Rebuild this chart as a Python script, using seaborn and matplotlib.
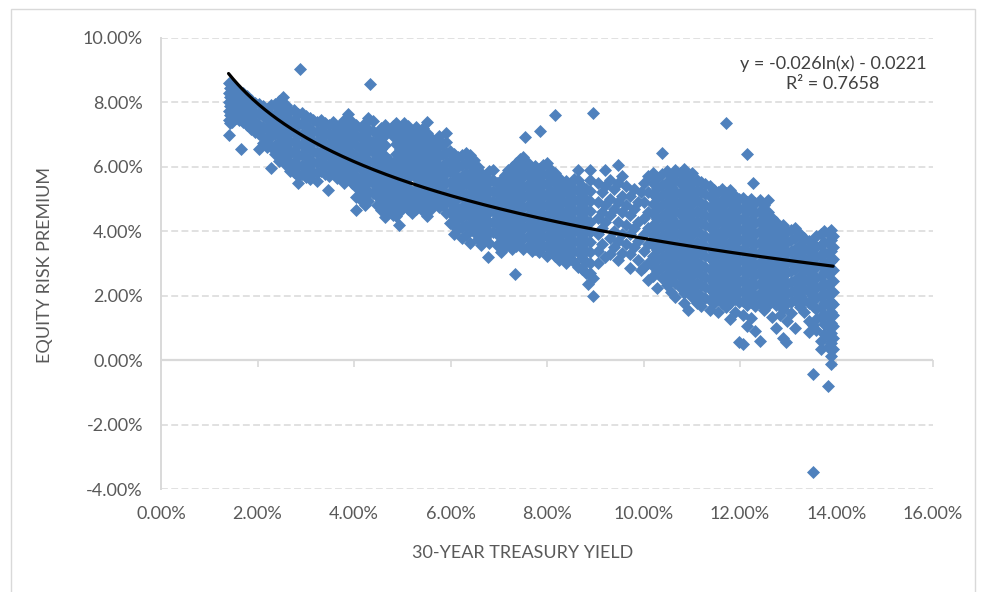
import numpy as np
import pandas as pd
import matplotlib
matplotlib.use("Agg")
import matplotlib.pyplot as plt
from matplotlib.ticker import PercentFormatter, MultipleLocator
from matplotlib.patches import Rectangle
import seaborn as sns

# Each entry: (30-year treasury yield %, [equity risk premium % observations])
yield_under_3 = [
    (1.40, [8.58, 8.30, 8.02, 7.74, 7.46, 6.98]),
    (1.43, [8.45, 8.15, 7.88, 7.60, 7.35]),
    (1.48, [8.50, 8.20, 7.92, 7.64, 7.40]),
    (1.55, [8.42, 8.10, 7.80, 7.52]),
    (1.62, [8.35, 8.05, 7.76, 7.46]),
    (1.66, [6.54]),
    (1.70, [8.28, 7.98, 7.68, 7.38]),
    (1.78, [8.18, 7.88, 7.58, 7.28]),
    (1.86, [8.08, 7.78, 7.48, 7.18]),
    (1.94, [7.98, 7.68, 7.38, 7.08]),
    (2.03, [7.95, 7.62, 7.30, 7.00, 6.54]),
    (2.12, [7.88, 7.56, 7.24, 6.92, 6.72]),
    (2.20, [7.80, 7.48, 7.16, 6.84, 6.60]),
    (2.28, [7.90, 7.58, 7.26, 6.94, 6.62, 5.96]),
    (2.36, [7.95, 7.64, 7.32, 7.00, 6.68, 6.40]),
    (2.44, [8.05, 7.74, 7.42, 7.10, 6.78, 6.46, 6.18]),
    (2.52, [8.15, 7.84, 7.52, 7.20, 6.88, 6.56, 6.24]),
    (2.60, [7.90, 7.58, 7.26, 6.94, 6.62, 6.30, 6.05]),
    (2.68, [7.72, 7.40, 7.08, 6.76, 6.44, 6.12, 5.86]),
    (2.76, [7.76, 7.44, 7.12, 6.80, 6.48, 6.16, 5.84]),
    (2.84, [7.62, 7.30, 6.98, 6.66, 6.34, 6.02, 5.72, 5.49]),
    (2.88, [9.04]),
    (2.92, [7.66, 7.34, 7.02, 6.70, 6.38, 6.06, 5.76]),
]

yield_3_to_4_5 = [
    (3.00, [7.58, 7.26, 6.94, 6.62, 6.30, 5.98, 5.68]),
    (3.08, [7.50, 7.18, 6.86, 6.54, 6.22, 5.90, 5.62]),
    (3.16, [7.44, 7.12, 6.80, 6.48, 6.16, 5.84]),
    (3.24, [7.40, 7.08, 6.76, 6.44, 6.12, 5.80, 5.55]),
    (3.32, [7.46, 7.14, 6.82, 6.50, 6.18, 5.86]),
    (3.40, [7.36, 7.04, 6.72, 6.40, 6.08, 5.76]),
    (3.46, [5.27]),
    (3.48, [7.30, 6.98, 6.66, 6.34, 6.02, 5.70]),
    (3.56, [7.38, 7.06, 6.74, 6.42, 6.10, 5.80]),
    (3.64, [7.22, 6.90, 6.58, 6.26, 5.94, 5.64]),
    (3.72, [7.30, 6.98, 6.66, 6.34, 6.02, 5.72]),
    (3.80, [7.45, 7.12, 6.80, 6.48, 6.16, 5.84, 5.50]),
    (3.88, [7.62, 7.28, 6.96, 6.64, 6.32, 6.00, 5.68]),
    (3.96, [7.40, 7.08, 6.76, 6.44, 6.12, 5.80, 5.48]),
    (4.05, [7.30, 6.98, 6.66, 6.34, 6.02, 5.70, 5.38, 5.06, 4.66]),
    (4.14, [7.20, 6.88, 6.56, 6.24, 5.92, 5.60, 5.28, 4.96]),
    (4.22, [7.34, 7.02, 6.70, 6.38, 6.06, 5.74, 5.42, 5.10, 4.80]),
    (4.30, [7.50, 7.18, 6.86, 6.54, 6.22, 5.90, 5.58, 5.26, 4.95]),
    (4.34, [8.55]),
    (4.40, [7.42, 7.10, 6.78, 6.46, 6.14, 5.82, 5.50, 5.18]),
    (4.48, [7.00, 6.68, 6.36, 6.04, 5.72, 5.40, 5.08, 4.80]),
]

yield_4_5_to_6_5 = [
    (4.56, [7.20, 6.88, 6.56, 6.24, 5.92, 5.60, 5.28, 4.96, 4.66]),
    (4.64, [7.30, 6.98, 6.66, 6.34, 6.02, 5.70, 5.38, 5.06, 4.74, 4.45]),
    (4.72, [7.10, 6.20, 5.88, 5.56, 5.24, 4.92, 4.60]),
    (4.80, [7.25, 6.95, 6.10, 5.78, 5.46, 5.14, 4.82, 4.50]),
    (4.88, [7.34, 7.02, 6.70, 6.38, 6.06, 5.74, 5.42, 5.10, 4.78, 4.46]),
    (4.93, [4.20]),
    (4.96, [7.20, 6.88, 6.56, 6.24, 5.92, 5.60, 5.28, 4.96, 4.64]),
    (5.04, [7.36, 7.04, 6.72, 6.40, 6.08, 5.76, 5.44, 5.12, 4.80]),
    (5.12, [7.26, 6.94, 6.62, 6.30, 5.98, 5.66, 5.34, 5.02, 4.70]),
    (5.20, [7.10, 6.78, 6.46, 6.14, 5.82, 5.20, 4.88, 4.56]),
    (5.28, [7.24, 6.92, 6.60, 6.28, 5.96, 5.64, 5.32, 5.00, 4.68]),
    (5.36, [7.08, 6.76, 6.44, 6.12, 5.80, 5.48, 5.16, 4.84]),
    (5.44, [7.20, 6.88, 6.56, 6.24, 5.92, 5.60, 5.28, 4.96, 4.64]),
    (5.52, [7.38, 7.04, 6.72, 6.40, 6.08, 5.76, 5.44, 5.12, 4.80, 4.48]),
    (5.60, [6.90, 6.58, 6.26, 5.94, 5.62, 5.30, 4.98, 4.70]),
    (5.68, [6.80, 6.48, 6.16, 5.84, 5.52, 5.20, 4.88]),
    (5.76, [6.96, 6.64, 6.32, 6.00, 5.68, 5.36, 5.04, 4.76]),
    (5.84, [6.70, 6.38, 6.06, 5.74, 5.42, 5.10, 4.80]),
    (5.91, [7.04, 6.76, 6.44, 6.12, 5.80, 5.48, 5.16, 4.86, 4.56]),
    (6.00, [6.50, 6.18, 5.86, 5.54, 5.22, 4.90, 4.58, 4.26]),
    (6.08, [6.40, 6.08, 5.76, 5.44, 5.12, 4.80, 4.48, 4.16, 3.90]),
    (6.16, [6.30, 5.98, 5.66, 5.34, 5.02, 4.70, 4.38, 4.06]),
    (6.24, [6.36, 6.04, 5.72, 5.40, 5.08, 4.76, 4.44, 4.12, 3.80]),
    (6.32, [6.44, 6.12, 5.80, 5.48, 5.16, 4.84, 4.52, 4.20, 3.88]),
    (6.40, [6.36, 6.04, 5.72, 5.40, 5.08, 4.76, 4.44, 4.12, 3.64]),
    (6.48, [6.20, 5.88, 5.56, 5.24, 4.92, 4.60, 4.28, 3.96]),
]

yield_6_5_to_9 = [
    (6.56, [6.00, 5.68, 5.36, 5.04, 4.72, 4.40, 4.08, 3.76]),
    (6.64, [5.80, 5.48, 5.16, 4.84, 4.52, 4.20, 3.88, 3.58]),
    (6.72, [5.70, 5.38, 5.06, 4.74, 4.42, 4.10, 3.78]),
    (6.78, [3.21]),
    (6.80, [5.86, 5.54, 5.22, 4.90, 4.58, 4.26, 3.94, 3.62]),
    (6.88, [5.90, 5.58, 5.26, 4.94, 4.62, 4.30, 3.98]),
    (6.96, [5.50, 5.18, 4.86, 4.54, 4.22, 3.90, 3.58]),
    (7.04, [5.60, 5.28, 4.96, 4.64, 4.32, 4.00, 3.68, 3.36]),
    (7.12, [5.74, 5.42, 5.10, 4.78, 4.46, 4.14, 3.82, 3.50]),
    (7.20, [5.90, 5.58, 5.26, 4.94, 4.62, 4.30, 3.98, 3.66]),
    (7.28, [6.00, 5.68, 5.36, 5.04, 4.72, 4.40, 4.08, 3.76, 3.44]),
    (7.34, [2.68]),
    (7.36, [6.10, 5.78, 5.46, 5.14, 4.82, 4.50, 4.18, 3.86, 3.54]),
    (7.44, [6.25, 5.94, 5.62, 5.30, 4.98, 4.66, 4.34, 4.02, 3.70]),
    (7.51, [6.30, 6.00, 5.70, 5.38, 5.06, 4.74, 4.42, 4.10, 3.78, 3.46]),
    (7.55, [6.91]),
    (7.60, [6.10, 5.78, 5.46, 5.14, 4.82, 4.50, 4.18, 3.86, 3.54]),
    (7.68, [5.96, 5.64, 5.32, 5.00, 4.68, 4.36, 4.04, 3.72, 3.40]),
    (7.76, [6.02, 5.70, 5.38, 5.06, 4.74, 4.42, 4.10, 3.78, 3.46]),
    (7.84, [5.92, 5.60, 5.28, 4.96, 4.64, 4.32, 4.00, 3.68, 3.36]),
    (7.86, [7.10]),
    (7.92, [6.06, 5.74, 5.42, 5.10, 4.78, 4.46, 4.14, 3.82, 3.50]),
    (8.00, [6.10, 5.78, 5.46, 5.14, 4.82, 4.50, 4.18, 3.86, 3.54, 3.22]),
    (8.08, [5.90, 5.58, 5.26, 4.94, 4.62, 4.30, 3.98, 3.66, 3.34]),
    (8.16, [5.80, 5.48, 5.16, 4.84, 4.52, 4.20, 3.88, 3.56, 3.24]),
    (8.17, [7.59]),
    (8.24, [5.66, 5.34, 5.02, 4.70, 4.38, 4.06, 3.74, 3.42, 3.10]),
    (8.32, [5.50, 5.18, 4.86, 4.54, 4.22, 3.90, 3.58, 3.26]),
    (8.40, [5.56, 5.24, 4.92, 4.60, 4.28, 3.96, 3.64, 3.32, 3.00]),
    (8.48, [5.40, 5.08, 4.76, 4.44, 4.12, 3.80, 3.48, 3.16]),
    (8.56, [5.62, 5.30, 4.98, 4.66, 4.34, 4.02, 3.70, 3.38, 3.06]),
    (8.64, [5.90, 5.58, 5.26, 4.94, 4.62, 4.30, 3.98, 3.66, 3.34, 2.90]),
    (8.72, [5.40, 5.08, 4.76, 4.44, 4.12, 3.80, 3.48, 3.16, 2.84]),
    (8.80, [5.30, 4.98, 4.66, 4.34, 4.02, 3.70, 3.38, 3.06, 2.70]),
    (8.86, [2.35]),
    (8.90, [5.90, 5.58, 5.26, 4.94, 4.62, 4.30, 3.98, 3.66, 3.34, 3.02, 2.70]),
    (8.96, [7.65, 2.55, 1.98]),
]

yield_9_to_10_2 = [
    (9.06, [5.50, 4.90, 4.40, 3.90, 3.40, 3.00]),
    (9.14, [5.20, 4.60, 4.10, 3.60]),
    (9.21, [5.90, 5.40, 4.80, 4.30, 3.20]),
    (9.30, [5.60, 5.00, 4.50, 3.80, 3.30]),
    (9.38, [5.30, 4.70, 4.00, 3.50]),
    (9.48, [6.05, 5.50, 4.90, 4.30, 3.70, 3.12]),
    (9.56, [5.70, 5.10, 4.60, 3.90, 3.33]),
    (9.64, [5.40, 4.80, 4.20, 3.60]),
    (9.72, [5.10, 4.50, 3.90, 3.30, 2.85]),
    (9.80, [5.30, 4.70, 4.10, 3.50]),
    (9.88, [4.90, 4.30, 3.70, 3.10]),
    (9.94, [5.20, 2.80]),
    (10.02, [5.50, 4.90, 4.40, 3.90, 3.40, 2.90]),
    (10.10, [5.70, 5.20, 4.60, 4.10, 3.60, 3.00, 2.50]),
]

yield_10_2_to_12 = [
    (10.20, [5.80, 5.48, 5.16, 4.84, 4.52, 4.20, 3.88, 3.56, 3.24, 2.92, 2.60]),
    (10.29, [5.66, 5.34, 5.02, 4.70, 4.38, 4.06, 3.74, 3.42, 3.10, 2.78, 2.25]),
    (10.39, [6.42, 5.76, 5.44, 5.12, 4.80, 4.48, 4.16, 3.84, 3.52, 3.20, 2.88, 2.56]),
    (10.48, [5.86, 5.54, 5.22, 4.90, 4.58, 4.26, 3.94, 3.62, 3.30, 2.98, 2.66, 2.34]),
    (10.57, [5.70, 5.38, 5.06, 4.74, 4.42, 4.10, 3.78, 3.46, 3.14, 2.82, 2.50, 2.10]),
    (10.66, [5.90, 5.58, 5.26, 4.94, 4.62, 4.30, 3.98, 3.66, 3.34, 3.02, 2.70, 2.38, 1.95]),
    (10.75, [5.80, 5.48, 5.16, 4.84, 4.52, 4.20, 3.88, 3.56, 3.24, 2.92, 2.60, 2.28]),
    (10.84, [5.92, 5.60, 5.28, 4.96, 4.64, 4.32, 4.00, 3.68, 3.36, 3.04, 2.72, 2.40, 2.08, 1.76]),
    (10.92, [5.70, 5.38, 5.06, 4.74, 4.42, 4.10, 3.78, 3.46, 3.14, 2.82, 2.50, 2.18, 1.57]),
    (11.01, [5.80, 5.48, 5.16, 4.84, 4.52, 4.20, 3.88, 3.56, 3.24, 2.92, 2.60, 2.28, 1.96]),
    (11.10, [5.60, 5.28, 4.96, 4.64, 4.32, 4.00, 3.68, 3.36, 3.04, 2.72, 2.40, 2.08, 1.76]),
    (11.19, [5.52, 5.20, 4.88, 4.56, 4.24, 3.92, 3.60, 3.28, 2.96, 2.64, 2.32, 2.00, 1.68]),
    (11.28, [5.46, 5.14, 4.82, 4.50, 4.18, 3.86, 3.54, 3.22, 2.90, 2.58, 2.26, 1.94]),
    (11.37, [5.40, 5.08, 4.76, 4.44, 4.12, 3.80, 3.48, 3.16, 2.84, 2.52, 2.20, 1.88, 1.56]),
    (11.46, [5.28, 4.96, 4.64, 4.32, 4.00, 3.68, 3.36, 3.04, 2.72, 2.40, 2.08, 1.76]),
    (11.54, [5.20, 4.88, 4.56, 4.24, 3.92, 3.60, 3.28, 2.96, 2.64, 2.32, 2.00, 1.51]),
    (11.63, [5.30, 4.98, 4.66, 4.34, 4.02, 3.70, 3.38, 3.06, 2.74, 2.42, 2.10, 1.78]),
    (11.72, [7.35, 5.18, 4.86, 4.54, 4.22, 3.90, 3.58, 3.26, 2.94, 2.62, 2.30, 1.98, 1.66]),
    (11.80, [5.28, 4.96, 4.64, 4.32, 4.00, 3.68, 3.36, 3.04, 2.72, 2.40, 2.08, 1.76, 1.27]),
    (11.89, [5.10, 4.78, 4.46, 4.14, 3.82, 3.50, 3.18, 2.86, 2.54, 2.22, 1.90, 1.50]),
    (11.97, [5.00, 4.68, 4.36, 4.04, 3.72, 3.40, 3.08, 2.76, 2.44, 2.12, 1.80, 0.56]),
]

yield_over_12 = [
    (12.06, [5.04, 4.72, 4.40, 4.08, 3.76, 3.44, 3.12, 2.80, 2.48, 2.16, 1.84, 1.40, 0.50]),
    (12.14, [6.39, 4.90, 4.58, 4.26, 3.94, 3.62, 3.30, 2.98, 2.66, 2.34, 2.02, 1.70, 1.05]),
    (12.23, [5.00, 4.68, 4.36, 4.04, 3.72, 3.40, 3.08, 2.76, 2.44, 2.12, 1.80, 1.30]),
    (12.26, [5.50]),
    (12.32, [4.88, 4.56, 4.24, 3.92, 3.60, 3.28, 2.96, 2.64, 2.32, 2.00, 1.68, 0.90]),
    (12.41, [4.96, 4.64, 4.32, 4.00, 3.68, 3.36, 3.04, 2.72, 2.40, 2.08, 1.76, 0.59]),
    (12.50, [4.80, 4.48, 4.16, 3.84, 3.52, 3.20, 2.88, 2.56, 2.24, 1.92, 1.55]),
    (12.58, [4.97, 4.60, 4.28, 3.96, 3.64, 3.32, 3.00, 2.68, 2.36, 2.04, 1.70]),
    (12.66, [4.40, 4.08, 3.76, 3.44, 3.12, 2.80, 2.48, 2.16, 1.84, 1.33]),
    (12.74, [4.29, 3.96, 3.64, 3.32, 3.00, 2.68, 2.36, 2.04, 1.72, 1.00]),
    (12.82, [4.10, 3.78, 3.46, 3.14, 2.82, 2.50, 2.18, 1.86, 1.40]),
    (12.90, [4.20, 3.88, 3.56, 3.24, 2.92, 2.60, 2.28, 1.96, 1.60, 0.70]),
    (12.95, [0.56]),
    (12.98, [4.00, 3.68, 3.36, 3.04, 2.72, 2.40, 2.08, 1.76, 1.20]),
    (13.06, [4.05, 3.72, 3.40, 3.08, 2.76, 2.44, 2.12, 1.80, 1.45]),
    (13.15, [4.10, 3.78, 3.46, 3.14, 2.82, 2.50, 2.18, 1.86, 1.00]),
    (13.24, [3.90, 3.58, 3.26, 2.94, 2.62, 2.30, 1.98, 1.66]),
    (13.32, [3.80, 3.48, 3.16, 2.84, 2.52, 2.20, 1.88, 1.50]),
    (13.42, [3.70, 3.38, 3.06, 2.74, 2.42, 2.10, 1.78, 1.20, 0.86]),
    (13.51, [3.60, 3.28, 2.96, 2.64, 2.32, 2.00, 1.68, 1.10, -0.43, -3.46]),
    (13.58, [3.85, 3.52, 3.20, 2.88, 2.56, 2.24, 1.92, 1.60, 1.28, 0.95]),
    (13.67, [3.90, 3.58, 3.26, 2.94, 2.62, 2.30, 1.98, 1.66, 1.34, 0.60, 0.34]),
    (13.75, [4.00, 3.68, 3.36, 3.04, 2.72, 2.40, 2.08, 1.76, 1.44, 1.12, 0.80]),
    (13.82, [3.95, 3.62, 3.30, 2.98, 2.66, 2.34, 2.02, 1.70, 1.38, 1.06, 0.74, 0.42, -0.80]),
    (13.88, [4.04, 3.72, 3.40, 3.08, 2.76, 2.44, 2.12, 1.80, 1.48, 1.16, 0.84, 0.52, 0.12, -0.12]),
    (13.93, [3.85, 3.50, 3.15, 2.80, 2.45, 2.10, 1.75, 1.40, 1.05, 0.70, 0.35]),
]

# Logarithmic trendline reported for the series (fractions, not percent)
trend_a = -0.026
trend_b = -0.0221
r_squared = 0.7658

x_ticks = [0, 2, 4, 6, 8, 10, 12, 14, 16]
y_ticks = [-4, -2, 0, 2, 4, 6, 8, 10]

rows = [
    (x, y)
    for group in (yield_under_3, yield_3_to_4_5, yield_4_5_to_6_5,
                  yield_6_5_to_9, yield_9_to_10_2, yield_10_2_to_12, yield_over_12)
    for x, ys in group
    for y in ys
]
df = pd.DataFrame(rows, columns=["treasury_yield", "equity_risk_premium"])

sns.set_theme(style="white")
plt.rcParams["font.family"] = ["Lato", "DejaVu Sans"]
plt.rcParams["axes.unicode_minus"] = False

W, H = 981, 592
fig = plt.figure(figsize=(W / 100, H / 100), dpi=100)
fig.patch.set_facecolor("white")

# light frame around the chart area
fig.patches.append(Rectangle((10.5 / W, -0.02), (975 - 10.5) / W, 1.02 - 8.5 / H,
                             transform=fig.transFigure, fill=False,
                             edgecolor="#D9D9D9", linewidth=1.0))

top_px, bottom_px, left_px, right_px = 37.7, 489.2, 161, 933
ax = fig.add_axes([left_px / W, 1 - bottom_px / H,
                   (right_px - left_px) / W, (bottom_px - top_px) / H])

xmin, xmax = x_ticks[0], x_ticks[-1]
ymin, ymax = y_ticks[0], y_ticks[-1]
ax.set_xlim(xmin, xmax)
ax.set_ylim(ymin, ymax)

grid_color = "#D9D9D9"
ax.set_axisbelow(True)
ax.yaxis.grid(True, color=grid_color, linestyle=(0, (4.5, 2.2)), linewidth=1.1)
ax.xaxis.grid(False)
for side in ("top", "right", "bottom"):
    ax.spines[side].set_visible(False)
ax.spines["left"].set_color(grid_color)
ax.spines["left"].set_linewidth(1.4)

# horizontal axis line sits at 0%
ax.axhline(0, color=grid_color, linewidth=1.6, zorder=1.5)
zero_axis = ax.secondary_xaxis((0 - ymin) / (ymax - ymin))
zero_axis.set_xticks(x_ticks)
zero_axis.tick_params(axis="x", length=5, width=1.2, color=grid_color,
                      labelbottom=False, direction="out")
for sp in zero_axis.spines.values():
    sp.set_visible(False)

sns.scatterplot(data=df, x="treasury_yield", y="equity_risk_premium",
                marker="D", s=44, color="#4F81BD", linewidth=0,
                ax=ax, zorder=3, legend=False)

xs = np.linspace(df["treasury_yield"].min(), df["treasury_yield"].max(), 400)
trend = 100 * (trend_a * np.log(xs / 100) + trend_b)
sns.lineplot(x=xs, y=trend, color="black", linewidth=2.3, ax=ax, zorder=4)

ax.set_xticks(x_ticks)
ax.set_yticks(y_ticks)
fmt = PercentFormatter(xmax=100, decimals=2)
ax.xaxis.set_major_formatter(fmt)
ax.yaxis.set_major_formatter(fmt)
tick_color = "#595959"
ax.tick_params(axis="y", length=0, pad=13, labelsize=13, labelcolor=tick_color)
ax.tick_params(axis="x", length=0, pad=12, labelsize=13, labelcolor=tick_color)
ax.set_xlabel("")
ax.set_ylabel("")

fig.text(523 / W, 1 - 553 / H, "30-YEAR TREASURY YIELD", ha="center", va="center",
         fontsize=13, color=tick_color)
fig.text(45 / W, 1 - 265 / H, "EQUITY RISK PREMIUM", ha="center", va="center",
         rotation=90, fontsize=13, color=tick_color)

eq_text = f"y = {trend_a:g}ln(x) - {abs(trend_b):g}\nR\u00b2 = {r_squared:g}"
fig.text(833 / W, 1 - 73.5 / H, eq_text, ha="center", va="center",
         fontsize=13, color="#404040", linespacing=1.35, multialignment="center")

fig.savefig("out.png", dpi=100, facecolor="white")
